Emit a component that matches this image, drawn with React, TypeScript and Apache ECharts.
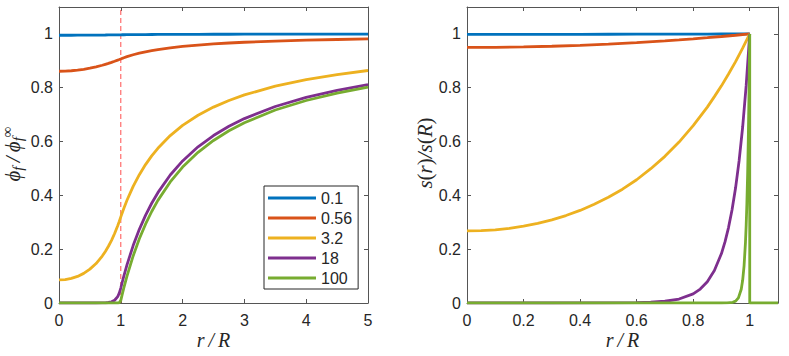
import React, { useEffect, useRef } from "react";
import * as echarts from "echarts";

const seriesNames = ["0.1", "0.56", "3.2", "18", "100"];
const seriesColors = ["#0072BD", "#D95319", "#EDB120", "#7E2F8E", "#77AC30"];

// Left panel: phi_f / phi_f^inf versus r/R
const xLeft = [0, 0.1, 0.2, 0.3, 0.4, 0.5, 0.6, 0.7, 0.75, 0.8, 0.85, 0.9, 0.95, 0.975, 1, 1.025, 1.05, 1.1, 1.2, 1.3, 1.4, 1.5, 1.6, 1.8, 2, 2.25, 2.5, 2.75, 3, 3.5, 4, 4.5, 5];
const phiBlue = [0.995, 0.995, 0.9951, 0.9952, 0.9953, 0.9954, 0.9956, 0.9958, 0.9959, 0.9961, 0.9962, 0.9963, 0.9965, 0.9966, 0.9967, 0.9968, 0.9969, 0.997, 0.9973, 0.9975, 0.9976, 0.9978, 0.9979, 0.9982, 0.9984, 0.9985, 0.9987, 0.9988, 0.9989, 0.9991, 0.9992, 0.9993, 0.9993];
const phiOrange = [0.8613, 0.8617, 0.8631, 0.8654, 0.8685, 0.8725, 0.8775, 0.8835, 0.8869, 0.8903, 0.8942, 0.8982, 0.9025, 0.9047, 0.907, 0.9093, 0.9114, 0.9155, 0.9225, 0.9285, 0.9336, 0.938, 0.9419, 0.9483, 0.9535, 0.9587, 0.9628, 0.9662, 0.969, 0.9734, 0.9768, 0.9793, 0.9814];
const phiYellow = [0.0858, 0.087, 0.0915, 0.0989, 0.1101, 0.1258, 0.1466, 0.1744, 0.1914, 0.2109, 0.233, 0.2582, 0.287, 0.3029, 0.32, 0.3366, 0.3524, 0.3818, 0.4333, 0.4769, 0.5143, 0.5467, 0.575, 0.6222, 0.66, 0.6978, 0.728, 0.7527, 0.7733, 0.8057, 0.83, 0.8489, 0.864];
const phiPurple = [0, 0, 0, 0, 0, 0, 0, 0.0004, 0.0008, 0.0019, 0.0044, 0.0102, 0.0238, 0.0364, 0.0556, 0.079, 0.101, 0.1418, 0.2133, 0.2738, 0.3257, 0.3707, 0.41, 0.4756, 0.528, 0.5804, 0.6224, 0.6567, 0.6853, 0.7303, 0.764, 0.7902, 0.8112];
const phiGreen = [0, 0, 0, 0, 0, 0, 0, 0, 0, 0, 0, 0, 0, 0.0008, 0.01, 0.0341, 0.0571, 0.1, 0.175, 0.2385, 0.2929, 0.34, 0.3813, 0.45, 0.505, 0.56, 0.604, 0.64, 0.67, 0.7171, 0.7525, 0.78, 0.802];
const dashX = [1];
const dashY = [0, 1.1];

// Right panel: s(r) / s(R) versus r/R
const xRight = [0, 0.1, 0.2, 0.3, 0.4, 0.5, 0.6, 0.7, 0.75, 0.8, 0.85, 0.9, 0.95, 1];
const sBlue = [0.9983, 0.9983, 0.9984, 0.9985, 0.9986, 0.9988, 0.9989, 0.9991, 0.9993, 0.9994, 0.9995, 0.9996, 0.9998, 1];
const sOrange = [0.9496, 0.9501, 0.9516, 0.9541, 0.9575, 0.962, 0.9675, 0.9741, 0.9778, 0.9816, 0.9859, 0.9903, 0.995, 1];
const xRightYellow = [0, 0.05, 0.1, 0.15, 0.2, 0.25, 0.3, 0.35, 0.4, 0.45, 0.5, 0.55, 0.6, 0.65, 0.7, 0.75, 0.8, 0.85, 0.875, 0.9, 0.925, 0.95, 0.975, 1];
const sYellow = [0.268, 0.269, 0.272, 0.2775, 0.286, 0.296, 0.309, 0.325, 0.344, 0.367, 0.393, 0.423, 0.458, 0.499, 0.545, 0.598, 0.659, 0.728, 0.767, 0.807, 0.851, 0.897, 0.947, 1];
const xRightPurple = [0, 0.3, 0.5, 0.6, 0.65, 0.7, 0.75, 0.8, 0.825, 0.85, 0.875, 0.9, 0.9125, 0.925, 0.9375, 0.95, 0.9625, 0.975, 0.9875, 1];
const sPurple = [0, 0, 0.0003, 0.0012, 0.0028, 0.0065, 0.0148, 0.0341, 0.0519, 0.0791, 0.1205, 0.1837, 0.2269, 0.2802, 0.3463, 0.428, 0.529, 0.654, 0.8086, 1];
const xRightGreen = [0, 0.9, 0.92, 0.94, 0.95, 0.96, 0.97, 0.975, 0.98, 0.985, 0.9875, 0.99, 0.9925, 0.995, 0.9975, 1, 1, 1.1];
const sGreen = [0, 0, 0.0004, 0.0026, 0.0071, 0.019, 0.0513, 0.0842, 0.138, 0.2265, 0.29, 0.3716, 0.476, 0.6096, 0.7808, 1, 0, 0];

const AXIS_COLOR = "#555555";
const TEXT_COLOR = "#262626";
const SANS = "Liberation Sans";
const SERIF = "Liberation Serif";

const fmt = (v: number) => (Math.abs(v - 1.1) < 1e-6 ? "" : String(Math.round(v * 10) / 10));

function axis(kind: "x" | "y", grid: number, max: number, interval: number, main: boolean) {
  const position = kind === "x" ? (main ? "bottom" : "top") : main ? "left" : "right";
  return {
    type: "value",
    gridIndex: grid,
    min: 0,
    max,
    interval,
    position,
    axisLine: { show: true, onZero: false, lineStyle: { color: AXIS_COLOR, width: 1 } },
    axisTick: { show: true, inside: true, length: 4, lineStyle: { color: AXIS_COLOR, width: 1 } },
    splitLine: { show: false },
    axisLabel: main
      ? {
          show: true,
          color: TEXT_COLOR,
          fontSize: 16,
          fontFamily: SANS,
          margin: kind === "x" ? 9 : 6,
          formatter: fmt,
        }
      : { show: false },
  };
}

const pairs = (xs: number[], ys: number[]) => xs.map((x, i) => [x, ys[i]]);

export default function App() {
  const ref = useRef<HTMLDivElement>(null);
  useEffect(() => {
    if (!ref.current) return;
    const chart = echarts.init(ref.current, null, { renderer: "svg" });
    const leftData = [phiBlue, phiOrange, phiYellow, phiPurple, phiGreen];
    const rightData = [
      pairs(xRight, sBlue),
      pairs(xRight, sOrange),
      pairs(xRightYellow, sYellow),
      pairs(xRightPurple, sPurple),
      pairs(xRightGreen, sGreen),
    ];
    const lineSeries = (i: number, data: number[][], side: number) => ({
      type: "line",
      name: seriesNames[i],
      xAxisIndex: side * 2,
      yAxisIndex: side * 2,
      data,
      showSymbol: false,
      symbol: "none",
      color: seriesColors[i],
      lineStyle: { color: seriesColors[i], width: 2.8 },
      clip: true,
    });
    const series: any[] = [
      {
        type: "line",
        name: "R",
        xAxisIndex: 0,
        yAxisIndex: 0,
        data: dashY.map((y) => [dashX[0], y]),
        showSymbol: false,
        symbol: "none",
        color: "#ff4f4f",
        lineStyle: { color: "#ff4f4f", width: 1, type: [5, 3] },
        clip: true,
      },
    ];
    leftData.forEach((d, i) => series.push(lineSeries(i, pairs(xLeft, d), 0)));
    rightData.forEach((d, i) => series.push(lineSeries(i, d, 1)));

    const it = (size: number, extra: any = {}) => ({ fontStyle: "italic", fontSize: size, fontFamily: SERIF, fill: TEXT_COLOR, ...extra });
    const up = (size: number, extra: any = {}) => ({ fontStyle: "normal", fontSize: size, fontFamily: SERIF, fill: TEXT_COLOR, ...extra });

    const option: any = {
      animation: false,
      backgroundColor: "#ffffff",
      grid: [
        { left: 59, top: 7, width: 309, height: 296 },
        { left: 467, top: 7, width: 311, height: 296 },
      ],
      xAxis: [axis("x", 0, 5, 1, true), axis("x", 0, 5, 1, false), axis("x", 1, 1.1, 0.2, true), axis("x", 1, 1.1, 0.2, false)],
      yAxis: [axis("y", 0, 1.1, 0.2, true), axis("y", 0, 1.1, 0.2, false), axis("y", 1, 1.1, 0.2, true), axis("y", 1, 1.1, 0.2, false)],
      legend: {
        data: seriesNames,
        orient: "vertical",
        left: 264,
        top: 186,
        icon: "rect",
        itemWidth: 48,
        itemHeight: 3,
        itemGap: 4,
        selectedMode: false,
        padding: [4, 6, 3, 4],
        borderColor: "#262626",
        borderWidth: 1,
        borderRadius: 0,
        backgroundColor: "#ffffff",
        textStyle: { fontSize: 16, color: TEXT_COLOR, fontFamily: SANS, lineHeight: 16 },
      },
      graphic: [
        {
          type: "text",
          x: 213.5,
          y: 340,
          style: { text: "r\u2009/\u2009R", ...it(20), align: "center", verticalAlign: "middle" },
        },
        {
          type: "text",
          x: 622.5,
          y: 340,
          style: { text: "r\u2009/\u2009R", ...it(20), align: "center", verticalAlign: "middle" },
        },
        {
          type: "text",
          x: 12.5,
          y: 154,
          rotation: Math.PI / 2,
          style: {
            text: "{a|ϕ}{b|f}{a|\u2009/\u2009ϕ}{b|f}{c|∞}",
            ...it(21),
            align: "center",
            verticalAlign: "middle",
            rich: {
              a: it(21, { lineHeight: 26, verticalAlign: "middle" }),
              b: it(15, { lineHeight: 15, verticalAlign: "bottom" }),
              c: up(15, { lineHeight: 15, verticalAlign: "top" }),
            },
          },
        },
        {
          type: "text",
          x: 425,
          y: 153,
          rotation: Math.PI / 2,
          style: {
            text: "{i|s}{n|(}{i|r}{n|)}{i|/s}{n|(}{i|R}{n|)}",
            ...it(21),
            align: "center",
            verticalAlign: "middle",
            rich: {
              i: it(21),
              n: up(21),
            },
          },
        },
      ],
      series,
    };
    chart.setOption(option);
    return () => chart.dispose();
  }, []);
  return <div ref={ref} style={{ position: "fixed", left: 0, top: 0, width: 789, height: 356 }} />;
}
